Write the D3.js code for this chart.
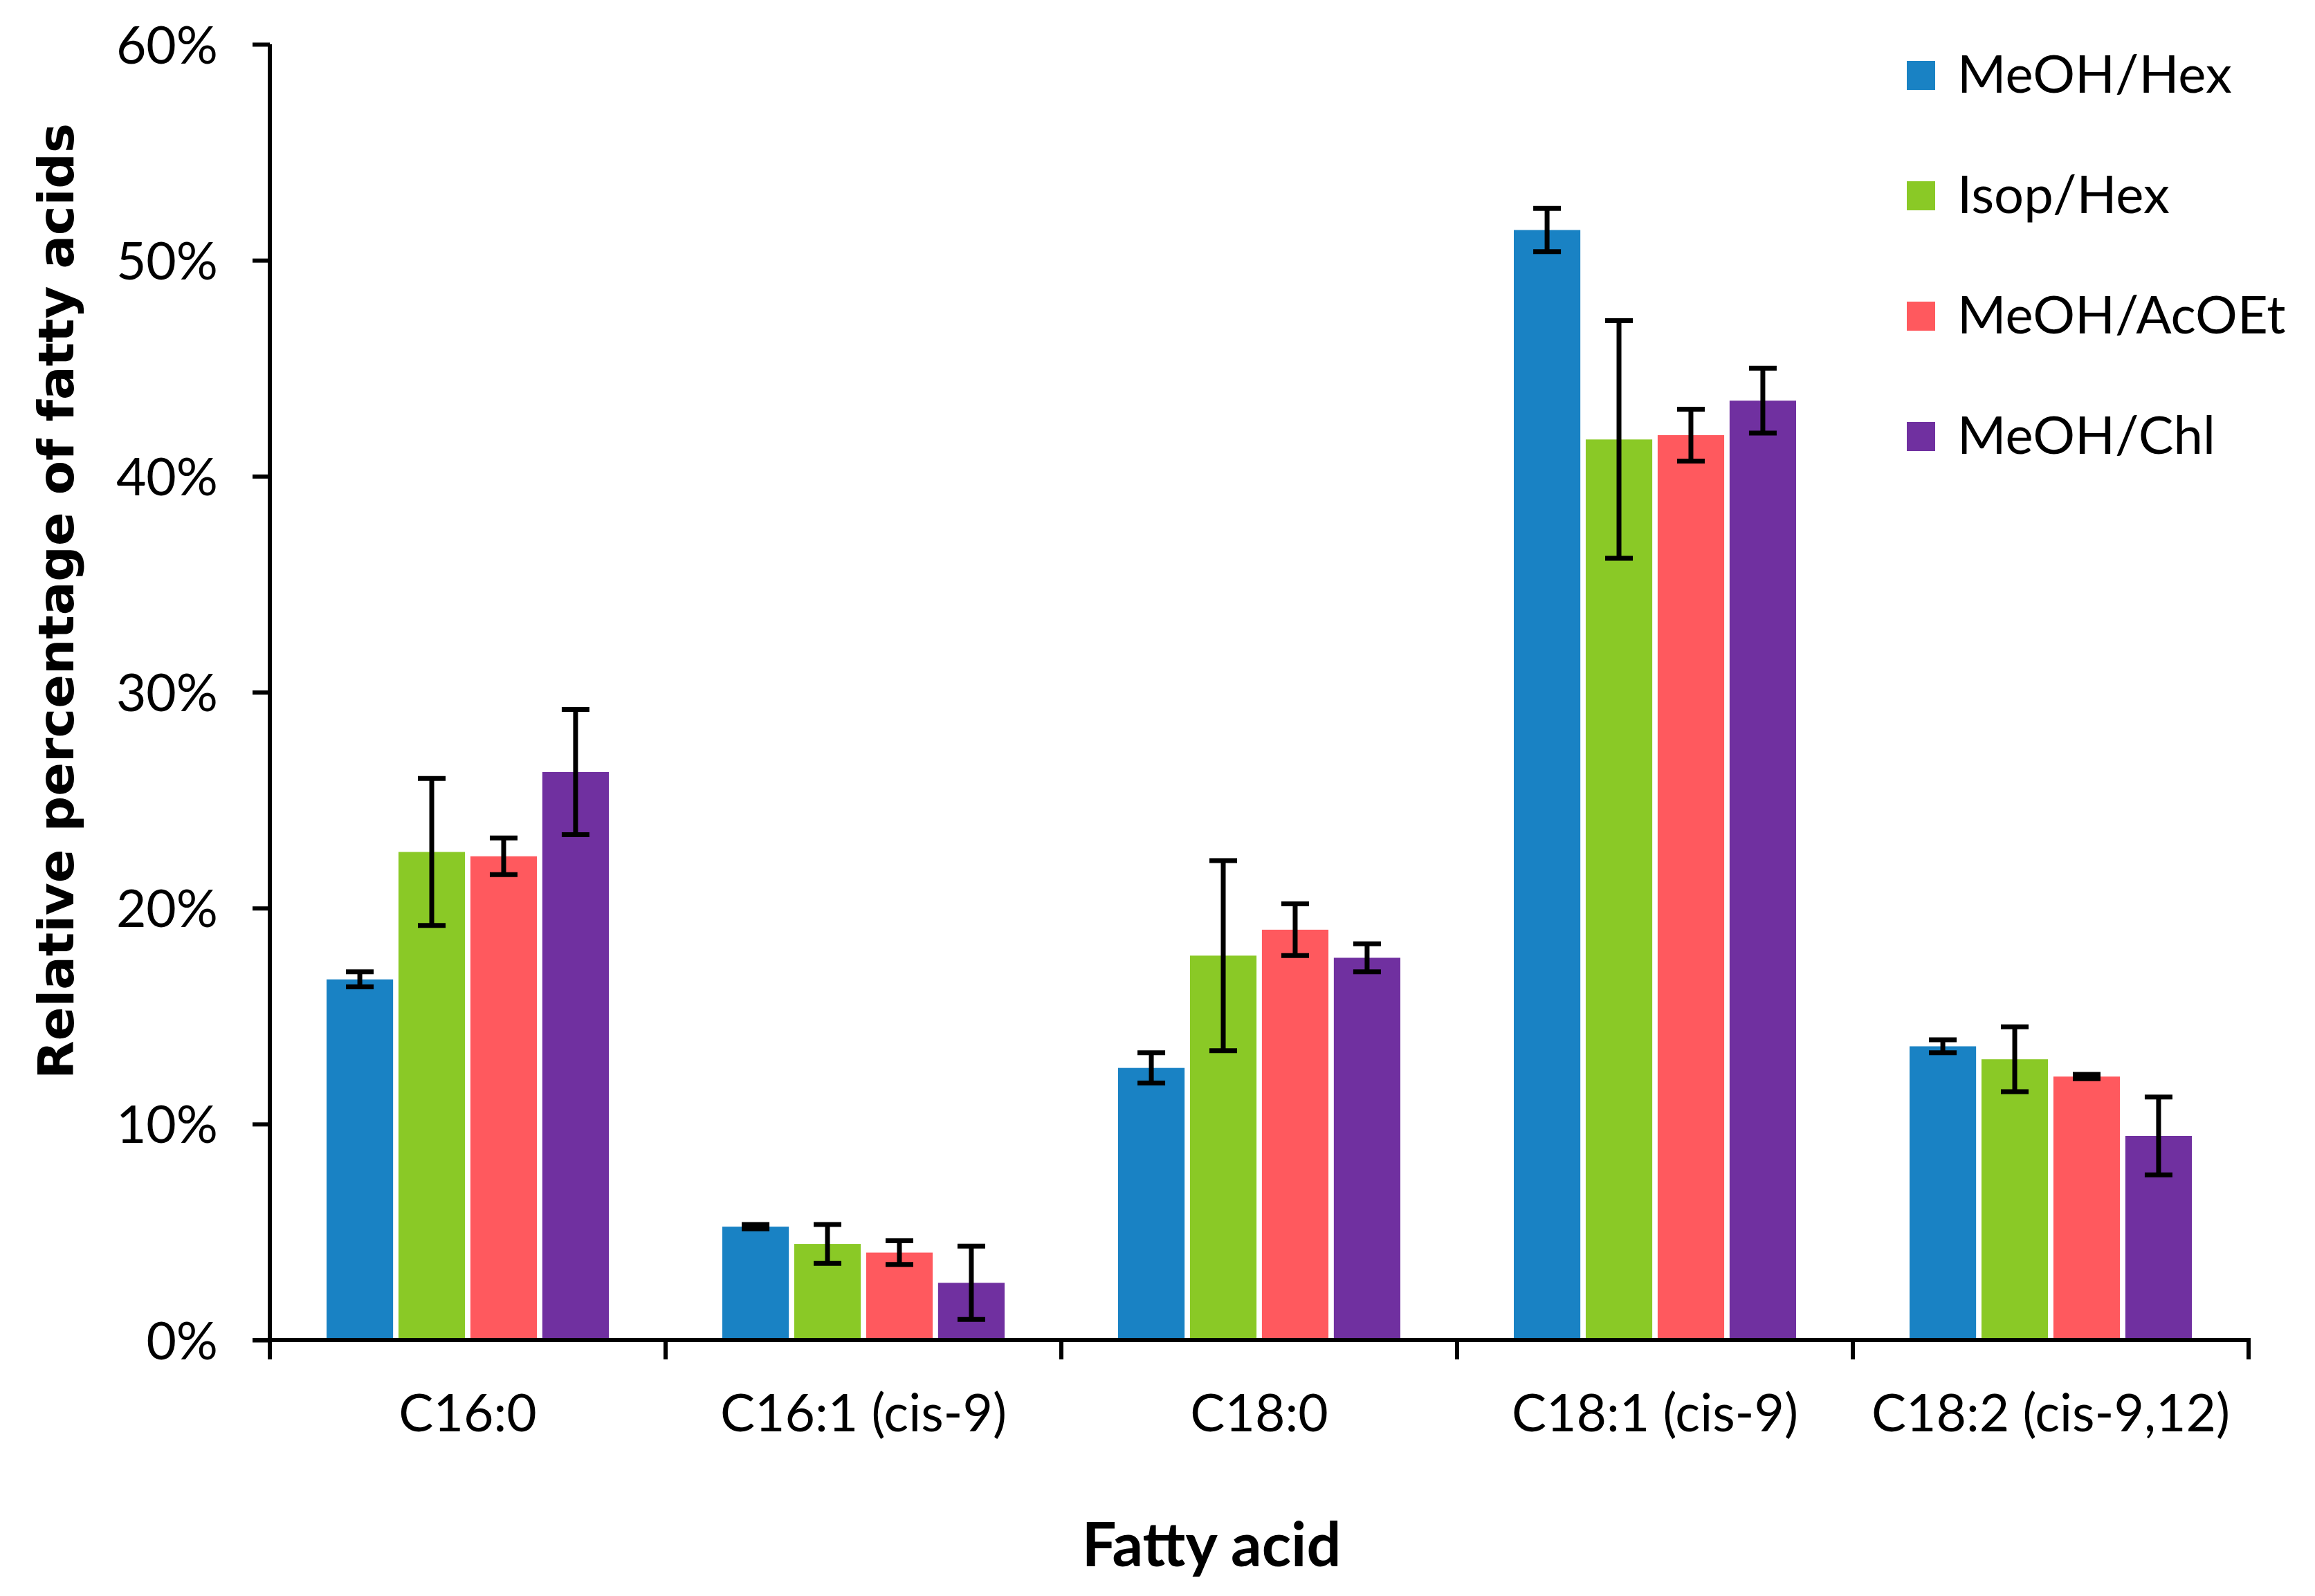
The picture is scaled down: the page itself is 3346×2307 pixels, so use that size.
<!DOCTYPE html>
<html>
<head>
<meta charset="utf-8">
<script src="https://cdn.jsdelivr.net/npm/d3@7"></script>
<style>
  body { margin: 0; background: #fff; }
  text { font-family: Lato, sans-serif; }
</style>
</head>
<body>
<svg class="chart"></svg>
<script>
const categories = ['C16:0', 'C16:1 (cis-9)', 'C18:0', 'C18:1 (cis-9)', 'C18:2 (cis-9,12)']
const seriesNames = ['MeOH/Hex', 'Isop/Hex', 'MeOH/AcOEt', 'MeOH/Chl']
const colors = ['#1982C4', '#8AC926', '#FF595E', '#7030A0']

// mean values (%) per series, in category order
const meohHex   = [16.7, 5.25, 12.6, 51.4, 13.6]
const isopHex   = [22.6, 4.45, 17.8, 41.7, 13.0]
const meohAcoet = [22.4, 4.05, 19.0, 41.9, 12.2]
const meohChl   = [26.3, 2.65, 17.7, 43.5, 9.45]

// standard deviations (%)
const errHex   = [0.35, 0.1, 0.7, 1.0, 0.3]
const errIsop  = [3.4, 0.9, 4.4, 5.5, 1.5]
const errAcoet = [0.85, 0.55, 1.2, 1.2, 0.1]
const errChl   = [2.9, 1.7, 0.65, 1.5, 1.8]

const yTicks = [0, 10, 20, 30, 40, 50, 60]

const values = [meohHex, isopHex, meohAcoet, meohChl]
const errors = [errHex, errIsop, errAcoet, errChl]

const width = 3346, height = 2307
const plotLeft = 390, plotRight = 3250, plotTop = 64, plotBottom = 1937

const svg = d3.select('svg.chart')
    .attr('width', width)
    .attr('height', height)

const x0 = d3.scaleBand()
    .domain(categories)
    .range([plotLeft, plotRight])

const x1 = d3.scaleBand()
    .domain(seriesNames)
    .range([82, x0.bandwidth() - 82])
    .paddingInner(0.075)

const y = d3.scaleLinear()
    .domain([0, 60])
    .range([plotBottom, plotTop])

// flatten to one row per bar
const rows = []
categories.forEach((cat, ci) => {
    seriesNames.forEach((s, si) => {
        rows.push({ cat: cat, series: s, idx: si, v: values[si][ci], e: errors[si][ci] })
    })
})

svg.append('g')
    .selectAll('rect')
    .data(rows)
    .enter()
    .append('rect')
    .attr('x', d => x0(d.cat) + x1(d.series))
    .attr('y', d => y(d.v))
    .attr('width', x1.bandwidth())
    .attr('height', d => plotBottom - y(d.v))
    .style('fill', d => colors[d.idx])

// error bars
const capW = 40
const err = svg.append('g')
    .style('stroke', '#000')
    .style('stroke-width', 7)

rows.forEach(d => {
    const cx = x0(d.cat) + x1(d.series) + x1.bandwidth() / 2
    err.append('line')
        .attr('x1', cx).attr('x2', cx)
        .attr('y1', y(d.v + d.e)).attr('y2', y(d.v - d.e))
    err.append('line')
        .attr('x1', cx - capW / 2).attr('x2', cx + capW / 2)
        .attr('y1', y(d.v + d.e)).attr('y2', y(d.v + d.e))
    err.append('line')
        .attr('x1', cx - capW / 2).attr('x2', cx + capW / 2)
        .attr('y1', y(d.v - d.e)).attr('y2', y(d.v - d.e))
})

// y axis
const yAxis = svg.append('g')
    .attr('transform', 'translate(' + plotLeft + ',0)')
    .call(d3.axisLeft(y).tickValues(yTicks).tickFormat(d => d + '%').tickSize(25).tickPadding(50))
yAxis.select('.domain').attr('d', 'M0,' + plotTop + 'V' + plotBottom).style('stroke-width', 6)
yAxis.selectAll('.tick line').style('stroke-width', 6)
yAxis.selectAll('.tick text')
    .style('font-size', '75px')
    .style('font-family', 'Lato, sans-serif')
    .attr('dy', '0.36em')

// x axis: ticks on band boundaries
const boundaries = categories.map(c => x0(c)).concat([plotRight])
const xAxis = svg.append('g')
    .attr('transform', 'translate(0,' + plotBottom + ')')
xAxis.append('line')
    .attr('x1', plotLeft - 25).attr('x2', plotRight + 3)
    .attr('y1', 0).attr('y2', 0)
    .style('stroke', '#000').style('stroke-width', 6)
xAxis.selectAll('.xtick')
    .data(boundaries)
    .enter()
    .append('line')
    .attr('x1', d => d).attr('x2', d => d)
    .attr('y1', 0).attr('y2', 28)
    .style('stroke', '#000').style('stroke-width', 6)
xAxis.selectAll('.xlabel')
    .data(categories)
    .enter()
    .append('text')
    .attr('x', d => x0(d) + x0.bandwidth() / 2)
    .attr('y', 132)
    .attr('text-anchor', 'middle')
    .style('font-size', '75px')
    .text(d => d)

// axis titles
svg.append('text')
    .attr('x', 1751)
    .attr('y', 2264)
    .attr('text-anchor', 'middle')
    .style('font-size', '88px')
    .style('font-weight', 'bold')
    .text('Fatty acid')

svg.append('text')
    .attr('text-anchor', 'middle')
    .attr('transform', 'translate(106,869)rotate(-90)')
    .style('font-family', 'DejaVu Sans')
    .style('font-size', '72px')
    .style('font-weight', 'bold')
    .text('Relative percentage of fatty acids')

// legend
const legend = svg.append('g')
    .attr('transform', 'translate(2756,88)')
const item = legend.selectAll('g')
    .data(seriesNames)
    .enter()
    .append('g')
    .attr('transform', (d, i) => 'translate(0,' + i * 174 + ')')
item.append('rect')
    .attr('width', 41).attr('height', 42)
    .style('fill', (d, i) => colors[i])
item.append('text')
    .attr('x', 73)
    .attr('y', 46)
    .style('font-size', '76px')
    .text(d => d)
</script>
</body>
</html>
